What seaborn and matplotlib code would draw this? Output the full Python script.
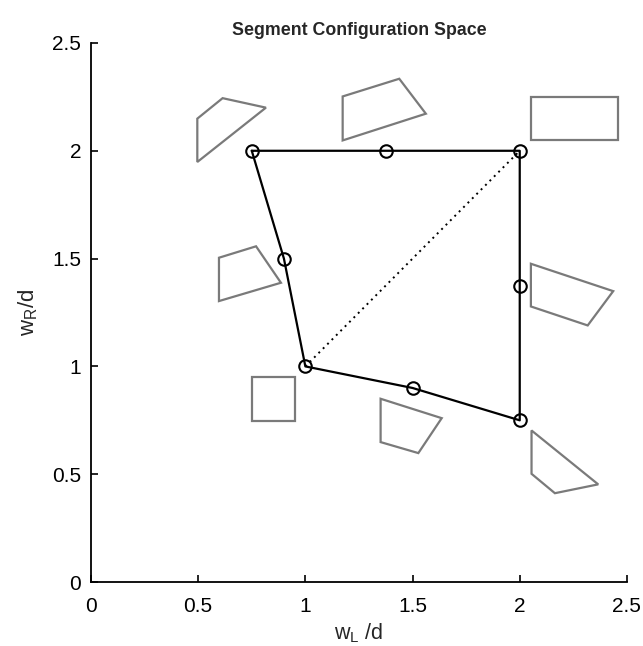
import matplotlib
matplotlib.use("Agg")
import matplotlib.pyplot as plt
import seaborn as sns
import pandas as pd
from matplotlib.patches import Polygon

# Boundary of the configuration region (closed path through the sampled configurations)
path_wl = [0.75, 1.375, 2.0, 2.0, 2.0, 1.5, 1.0, 0.9, 0.75]
path_wr = [2.0, 2.0, 2.0, 1.375, 0.75, 0.9, 1.0, 1.5, 2.0]

# Sampled configurations marked with circles
pts_wl = [0.75, 1.375, 2.0, 2.0, 2.0, 1.5, 1.0, 0.9]
pts_wr = [2.0, 2.0, 2.0, 1.375, 0.75, 0.9, 1.0, 1.5]

# Diagonal (symmetric segments)
diag_wl = [1.0, 2.0]
diag_wr = [1.0, 2.0]

# Segment shapes drawn next to each configuration (w_L/d, w_R/d corners)
shape_tl_x = [0.496, 0.614, 0.816, 0.496]
shape_tl_y = [2.149, 2.244, 2.200, 1.948]
shape_tm_x = [1.174, 1.438, 1.562, 1.174]
shape_tm_y = [2.252, 2.334, 2.172, 2.048]
shape_tr_x = [2.052, 2.457, 2.457, 2.052]
shape_tr_y = [2.249, 2.249, 2.049, 2.049]
shape_ml_x = [0.597, 0.770, 0.886, 0.597]
shape_ml_y = [1.504, 1.557, 1.388, 1.303]
shape_mr_x = [2.052, 2.436, 2.317, 2.052]
shape_mr_y = [1.476, 1.349, 1.190, 1.278]
shape_sq_x = [0.750, 0.951, 0.951, 0.750]
shape_sq_y = [0.950, 0.950, 0.746, 0.746]
shape_bm_x = [1.351, 1.636, 1.527, 1.351]
shape_bm_y = [0.850, 0.760, 0.598, 0.649]
shape_br_x = [2.055, 2.366, 2.164, 2.055]
shape_br_y = [0.703, 0.453, 0.412, 0.502]

shapes = [
    (shape_tl_x, shape_tl_y), (shape_tm_x, shape_tm_y), (shape_tr_x, shape_tr_y),
    (shape_ml_x, shape_ml_y), (shape_mr_x, shape_mr_y), (shape_sq_x, shape_sq_y),
    (shape_bm_x, shape_bm_y), (shape_br_x, shape_br_y),
]

x_ticks = [0, 0.5, 1, 1.5, 2, 2.5]
y_ticks = [0, 0.5, 1, 1.5, 2, 2.5]
x_tick_labels = ["0", "0.5", "1", "1.5", "2", "2.5"]
y_tick_labels = ["0", "0.5", "1", "1.5", "2", "2.5"]

sns.set_style("ticks")
plt.rcParams["font.family"] = ["Liberation Sans", "DejaVu Sans"]
plt.rcParams["mathtext.fontset"] = "custom"
plt.rcParams["mathtext.rm"] = "Liberation Sans"
plt.rcParams["mathtext.it"] = "Liberation Sans"

fig = plt.figure(figsize=(6.43, 6.46), dpi=100)
ax = fig.add_axes([0.1415, 0.099, 0.8335, 0.8345])

path_df = pd.DataFrame({"wl": path_wl, "wr": path_wr})
pts_df = pd.DataFrame({"wl": pts_wl, "wr": pts_wr})
diag_df = pd.DataFrame({"wl": diag_wl, "wr": diag_wr})

for sx, sy in shapes:
    ax.add_patch(Polygon(list(zip(sx, sy)), closed=True, fill=False,
                         edgecolor="#7a7a7a", linewidth=1.6))

sns.lineplot(data=diag_df, x="wl", y="wr", ax=ax, color="black",
             linestyle=(0, (1, 2.2)), linewidth=1.4, sort=False,
             estimator=None, errorbar=None)
sns.lineplot(data=path_df, x="wl", y="wr", ax=ax, color="black",
             linewidth=1.6, sort=False, estimator=None, errorbar=None)
ax.plot(pts_df["wl"], pts_df["wr"], linestyle="none", marker="o",
        markersize=9, markerfacecolor="none", markeredgecolor="black",
        markeredgewidth=1.5)

ax.set_xlim(0, 2.5)
ax.set_ylim(0, 2.5)
ax.set_xticks(x_ticks)
ax.set_yticks(y_ticks)
ax.set_xticklabels(x_tick_labels)
ax.set_yticklabels(y_tick_labels)
ax.tick_params(direction="in", length=5, width=1.2, labelsize=15, colors="black")
ax.tick_params(axis="x", pad=11)
ax.tick_params(axis="y", pad=7)
for side in ["top", "right"]:
    ax.spines[side].set_visible(False)
for side in ["left", "bottom"]:
    ax.spines[side].set_linewidth(1.3)
    ax.spines[side].set_color("black")

ax.set_xlabel(r"w$_{\mathrm{L}}$ /d", fontsize=15.5, labelpad=4)
ax.set_ylabel(r"w$_{\mathrm{R}}$/d", fontsize=16, labelpad=9)
ax.set_title("Segment Configuration Space", fontsize=12.8, fontweight="bold", pad=6)

fig.savefig("out.png", dpi=100)
